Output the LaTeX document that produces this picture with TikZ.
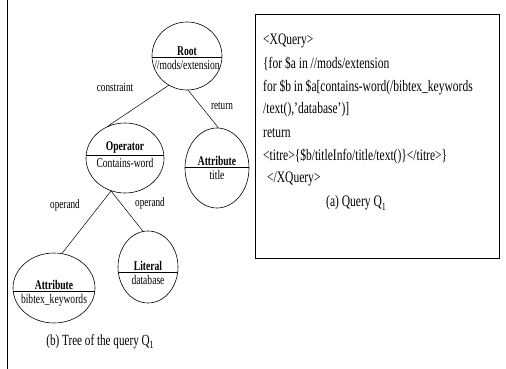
\documentclass[tikz,border=0pt]{standalone}
\usepackage{fontspec}
\setmainfont[FakeStretch=0.72]{Liberation Serif}
\usetikzlibrary{shapes.geometric}
\tikzset{
  ell/.style={draw, ellipse, inner sep=0pt, line width=0.6pt},
  ttl/.style={font=\bfseries\fontsize{13.3}{15}\selectfont, inner sep=1pt},
  bdy/.style={font=\fontsize{13.3}{15}\selectfont, inner sep=1pt},
  lbl/.style={font=\fontsize{12.8}{14}\selectfont, inner sep=0pt},
  conn/.style={line width=0.5pt},
  code/.style={font=\fontsize{16}{18}\selectfont, anchor=west, inner sep=0pt},
  captxt/.style={font=\fontsize{15.5}{17}\selectfont, inner sep=0pt},
}
\newcommand\subone{\raisebox{-0.45ex}{\fontsize{11}{11}\selectfont 1}}
% name, cx, cy, rx, ry, divider y (absolute), title, body
\newcommand\treenode[8]{%
  \node[ell, minimum width=#4*2pt, minimum height=#5*2pt] (#1) at (#2,#3) {};
  \begin{scope}
    \clip (#2,#3) ellipse [x radius=#4pt, y radius=#5pt];
    \draw[line width=0.6pt] (#2-#4,#6) -- (#2+#4,#6);
  \end{scope}
  \node[ttl, anchor=south] (#1-t) at (#2,#6) {#7};
  \node[bdy, anchor=north] (#1-b) at (#2,#6+2) {#8};
}
\begin{document}
\begin{tikzpicture}[x=1pt,y=-1pt]
\useasboundingbox (0,0) rectangle (506,369);
% left vertical rule
\coordinate (vt) at (7,0);
\coordinate (vb) at (7,369);
\draw[line width=0.8pt] (vt) -- (vb);

\treenode{root}{187}{56}{35}{34}{57}{Root}{//mods/extension}
\treenode{op}{125}{158}{39}{35}{155}{Operator}{Contains-word}
\treenode{attr}{217}{168}{32}{40}{167}{Attribute}{title}
\treenode{bib}{54}{288}{41}{35}{291}{Attribute}{bibtex\_keywords}
\treenode{lit}{148}{267}{30}{36}{272}{Literal}{database}

\draw[conn] (root.238) -- (op.119);
\draw[conn] (root.272) -- (attr.88);
\draw[conn] (op.247) -- (bib.77);
\draw[conn] (op.247) -- (lit.98);

\node[lbl] (l1) at (115,87) {constraint};
\node[lbl] (l2) at (222,106) {return};
\node[lbl] (l3) at (65,205) {operand};
\node[lbl] (l4) at (150,203) {operand};

\node[captxt] (capb) at (100,342) {(b) Tree of the query Q\subone};

% query box
\node[draw, line width=0.6pt, minimum width=244pt, minimum height=244pt, anchor=north west, inner sep=0pt] (box) at (255,14) {};
\node[code] (c1) at (263,41) {<XQuery>};
\node[code] (c2) at (263,64) {\{for \$a in //mods/extension};
\node[code] (c3) at (263,87) {for \$b in \$a[contains-word(/bibtex\_keywords};
\node[code] (c4) at (263,110) {/text(),'database')]};
\node[code] (c5) at (263,133) {return};
\node[code] (c6) at (263,156) {<titre>\{\$b/titleInfo/title/text()\}</titre>\}};
\node[code] (c7) at (267,179) {</XQuery>};
\node[code, anchor=center] (capa) at (356,203) {(a) Query Q\subone};
\end{tikzpicture}
\end{document}
